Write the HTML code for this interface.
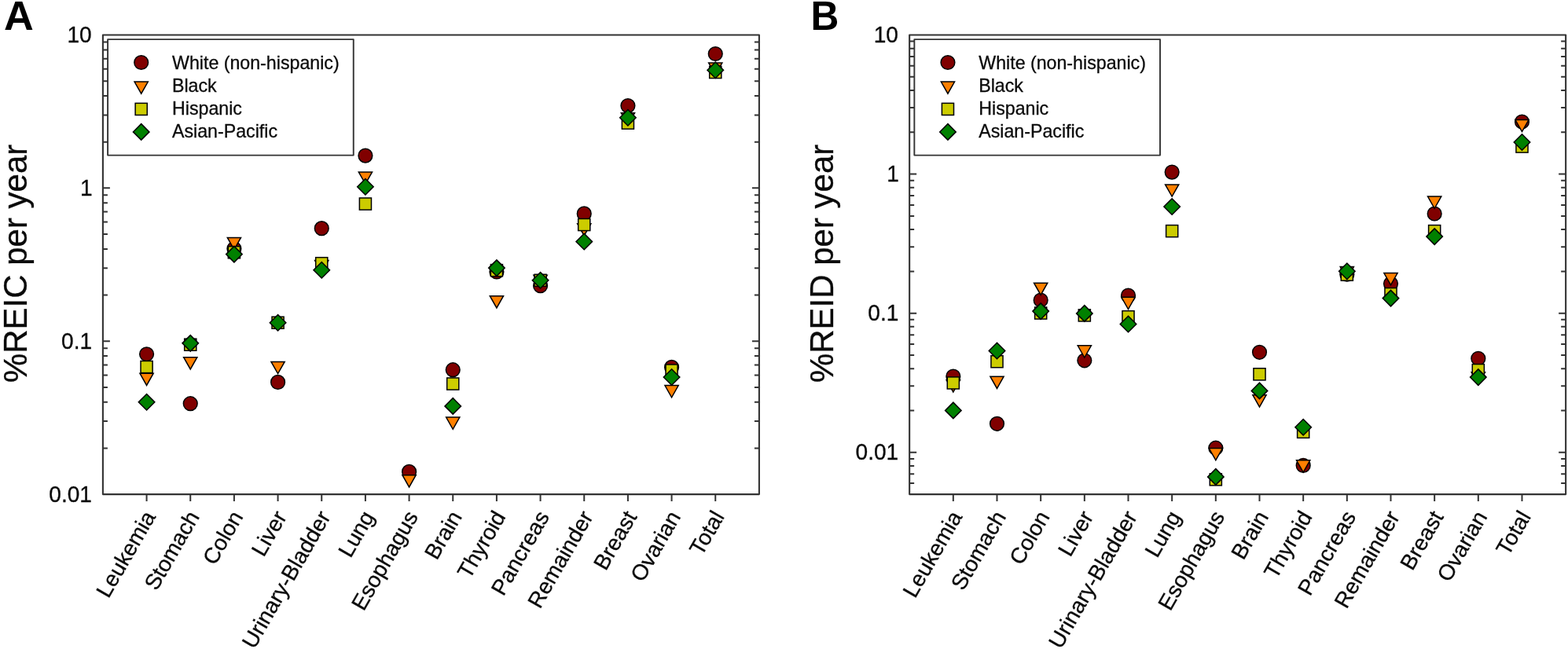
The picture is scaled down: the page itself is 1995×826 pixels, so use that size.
<!DOCTYPE html>
<html lang="en"><head><meta charset="utf-8"><title>%REIC and %REID per year by cancer site</title>
<style>html,body{margin:0;padding:0;background:#fff;}body{width:1995px;height:826px;overflow:hidden;}svg{display:block;}text{font-family:'Liberation Sans', Arial, Helvetica, sans-serif;fill:#0a0a0a;stroke:#0a0a0a;stroke-width:0.3px;}</style>
</head><body>
<svg width="1995" height="826" viewBox="0 0 1995 826">
<rect width="1995" height="826" fill="#fff"/>
<g>
<path d="M130.9 239.37h9M965.9 239.37h-9M130.9 180.71h6M965.9 180.71h-6M130.9 146.39h6M965.9 146.39h-6M130.9 122.05h6M965.9 122.05h-6M130.9 103.16h6M965.9 103.16h-6M130.9 87.73h6M965.9 87.73h-6M130.9 74.69h6M965.9 74.69h-6M130.9 63.38h6M965.9 63.38h-6M130.9 53.42h6M965.9 53.42h-6M130.9 434.23h9M965.9 434.23h-9M130.9 375.57h6M965.9 375.57h-6M130.9 341.26h6M965.9 341.26h-6M130.9 316.91h6M965.9 316.91h-6M130.9 298.03h6M965.9 298.03h-6M130.9 282.6h6M965.9 282.6h-6M130.9 269.55h6M965.9 269.55h-6M130.9 258.25h6M965.9 258.25h-6M130.9 248.28h6M965.9 248.28h-6M130.9 570.44h6M965.9 570.44h-6M130.9 536.12h6M965.9 536.12h-6M130.9 511.78h6M965.9 511.78h-6M130.9 492.89h6M965.9 492.89h-6M130.9 477.46h6M965.9 477.46h-6M130.9 464.42h6M965.9 464.42h-6M130.9 453.12h6M965.9 453.12h-6M130.9 443.15h6M965.9 443.15h-6M186.57 629.1v9M242.24 629.1v9M297.9 629.1v9M353.57 629.1v9M409.24 629.1v9M464.91 629.1v9M520.57 629.1v9M576.24 629.1v9M631.91 629.1v9M687.57 629.1v9M743.24 629.1v9M798.91 629.1v9M854.57 629.1v9M910.24 629.1v9" fill="none" stroke="#333" stroke-width="2"/>
<circle cx="186.57" cy="450.8" r="8.85" fill="#800000" stroke="#000" stroke-width="1.5" stroke-linejoin="miter"/>
<circle cx="242.24" cy="513.7" r="8.85" fill="#800000" stroke="#000" stroke-width="1.5" stroke-linejoin="miter"/>
<circle cx="297.9" cy="316.6" r="8.85" fill="#800000" stroke="#000" stroke-width="1.5" stroke-linejoin="miter"/>
<circle cx="353.57" cy="486.4" r="8.85" fill="#800000" stroke="#000" stroke-width="1.5" stroke-linejoin="miter"/>
<circle cx="409.24" cy="290.65" r="8.85" fill="#800000" stroke="#000" stroke-width="1.5" stroke-linejoin="miter"/>
<circle cx="464.91" cy="198.1" r="8.85" fill="#800000" stroke="#000" stroke-width="1.5" stroke-linejoin="miter"/>
<circle cx="520.57" cy="600.4" r="8.85" fill="#800000" stroke="#000" stroke-width="1.5" stroke-linejoin="miter"/>
<circle cx="576.24" cy="470.7" r="8.85" fill="#800000" stroke="#000" stroke-width="1.5" stroke-linejoin="miter"/>
<circle cx="631.91" cy="345.9" r="8.85" fill="#800000" stroke="#000" stroke-width="1.5" stroke-linejoin="miter"/>
<circle cx="687.57" cy="363.65" r="8.85" fill="#800000" stroke="#000" stroke-width="1.5" stroke-linejoin="miter"/>
<circle cx="743.24" cy="271.9" r="8.85" fill="#800000" stroke="#000" stroke-width="1.5" stroke-linejoin="miter"/>
<circle cx="798.91" cy="134.6" r="8.85" fill="#800000" stroke="#000" stroke-width="1.5" stroke-linejoin="miter"/>
<circle cx="854.57" cy="467.4" r="8.85" fill="#800000" stroke="#000" stroke-width="1.5" stroke-linejoin="miter"/>
<circle cx="910.24" cy="68.5" r="8.85" fill="#800000" stroke="#000" stroke-width="1.5" stroke-linejoin="miter"/>
<polygon points="177.97,475.2 195.17,475.2 186.57,490.4" fill="#ff8000" stroke="#000" stroke-width="1.5" stroke-linejoin="miter"/>
<polygon points="233.64,454.7 250.84,454.7 242.24,469.9" fill="#ff8000" stroke="#000" stroke-width="1.5" stroke-linejoin="miter"/>
<polygon points="289.3,302.4 306.5,302.4 297.9,317.6" fill="#ff8000" stroke="#000" stroke-width="1.5" stroke-linejoin="miter"/>
<polygon points="344.97,460.4 362.17,460.4 353.57,475.6" fill="#ff8000" stroke="#000" stroke-width="1.5" stroke-linejoin="miter"/>
<polygon points="400.64,331.6 417.84,331.6 409.24,346.8" fill="#ff8000" stroke="#000" stroke-width="1.5" stroke-linejoin="miter"/>
<polygon points="456.31,218.9 473.51,218.9 464.91,234.1" fill="#ff8000" stroke="#000" stroke-width="1.5" stroke-linejoin="miter"/>
<polygon points="511.97,604.7 529.17,604.7 520.57,619.9" fill="#ff8000" stroke="#000" stroke-width="1.5" stroke-linejoin="miter"/>
<polygon points="567.64,531.1 584.84,531.1 576.24,546.3" fill="#ff8000" stroke="#000" stroke-width="1.5" stroke-linejoin="miter"/>
<polygon points="623.31,376.7 640.51,376.7 631.91,391.9" fill="#ff8000" stroke="#000" stroke-width="1.5" stroke-linejoin="miter"/>
<polygon points="678.97,350.2 696.17,350.2 687.57,365.4" fill="#ff8000" stroke="#000" stroke-width="1.5" stroke-linejoin="miter"/>
<polygon points="734.64,284.7 751.84,284.7 743.24,299.9" fill="#ff8000" stroke="#000" stroke-width="1.5" stroke-linejoin="miter"/>
<polygon points="790.31,143.7 807.51,143.7 798.91,158.9" fill="#ff8000" stroke="#000" stroke-width="1.5" stroke-linejoin="miter"/>
<polygon points="845.97,490.6 863.17,490.6 854.57,505.8" fill="#ff8000" stroke="#000" stroke-width="1.5" stroke-linejoin="miter"/>
<polygon points="901.64,79.9 918.84,79.9 910.24,95.1" fill="#ff8000" stroke="#000" stroke-width="1.5" stroke-linejoin="miter"/>
<rect x="179.02" y="459.45" width="15.1" height="15.1" fill="#cccc00" stroke="#000" stroke-width="1.5" stroke-linejoin="miter"/>
<rect x="234.69" y="431.15" width="15.1" height="15.1" fill="#cccc00" stroke="#000" stroke-width="1.5" stroke-linejoin="miter"/>
<rect x="290.35" y="313.65" width="15.1" height="15.1" fill="#cccc00" stroke="#000" stroke-width="1.5" stroke-linejoin="miter"/>
<rect x="346.02" y="403.15" width="15.1" height="15.1" fill="#cccc00" stroke="#000" stroke-width="1.5" stroke-linejoin="miter"/>
<rect x="401.69" y="327.65" width="15.1" height="15.1" fill="#cccc00" stroke="#000" stroke-width="1.5" stroke-linejoin="miter"/>
<rect x="457.36" y="251.95" width="15.1" height="15.1" fill="#cccc00" stroke="#000" stroke-width="1.5" stroke-linejoin="miter"/>
<rect x="568.69" y="480.95" width="15.1" height="15.1" fill="#cccc00" stroke="#000" stroke-width="1.5" stroke-linejoin="miter"/>
<rect x="624.36" y="336.55" width="15.1" height="15.1" fill="#cccc00" stroke="#000" stroke-width="1.5" stroke-linejoin="miter"/>
<rect x="680.02" y="349.25" width="15.1" height="15.1" fill="#cccc00" stroke="#000" stroke-width="1.5" stroke-linejoin="miter"/>
<rect x="735.69" y="278.45" width="15.1" height="15.1" fill="#cccc00" stroke="#000" stroke-width="1.5" stroke-linejoin="miter"/>
<rect x="791.36" y="149.05" width="15.1" height="15.1" fill="#cccc00" stroke="#000" stroke-width="1.5" stroke-linejoin="miter"/>
<rect x="847.02" y="463.95" width="15.1" height="15.1" fill="#cccc00" stroke="#000" stroke-width="1.5" stroke-linejoin="miter"/>
<rect x="902.69" y="84.45" width="15.1" height="15.1" fill="#cccc00" stroke="#000" stroke-width="1.5" stroke-linejoin="miter"/>
<polygon points="186.57,501.45 196.82,511.7 186.57,521.95 176.32,511.7" fill="#008000" stroke="#000" stroke-width="1.5" stroke-linejoin="miter"/>
<polygon points="242.24,426.6 252.49,436.85 242.24,447.1 231.99,436.85" fill="#008000" stroke="#000" stroke-width="1.5" stroke-linejoin="miter"/>
<polygon points="297.9,313.35 308.15,323.6 297.9,333.85 287.65,323.6" fill="#008000" stroke="#000" stroke-width="1.5" stroke-linejoin="miter"/>
<polygon points="353.57,400.45 363.82,410.7 353.57,420.95 343.32,410.7" fill="#008000" stroke="#000" stroke-width="1.5" stroke-linejoin="miter"/>
<polygon points="409.24,333.55 419.49,343.8 409.24,354.05 398.99,343.8" fill="#008000" stroke="#000" stroke-width="1.5" stroke-linejoin="miter"/>
<polygon points="464.91,227.5 475.16,237.75 464.91,248 454.66,237.75" fill="#008000" stroke="#000" stroke-width="1.5" stroke-linejoin="miter"/>
<polygon points="576.24,506.65 586.49,516.9 576.24,527.15 565.99,516.9" fill="#008000" stroke="#000" stroke-width="1.5" stroke-linejoin="miter"/>
<polygon points="631.91,330.85 642.16,341.1 631.91,351.35 621.66,341.1" fill="#008000" stroke="#000" stroke-width="1.5" stroke-linejoin="miter"/>
<polygon points="687.57,346.55 697.82,356.8 687.57,367.05 677.32,356.8" fill="#008000" stroke="#000" stroke-width="1.5" stroke-linejoin="miter"/>
<polygon points="743.24,297.25 753.49,307.5 743.24,317.75 732.99,307.5" fill="#008000" stroke="#000" stroke-width="1.5" stroke-linejoin="miter"/>
<polygon points="798.91,139.55 809.16,149.8 798.91,160.05 788.66,149.8" fill="#008000" stroke="#000" stroke-width="1.5" stroke-linejoin="miter"/>
<polygon points="854.57,469.75 864.82,480 854.57,490.25 844.32,480" fill="#008000" stroke="#000" stroke-width="1.5" stroke-linejoin="miter"/>
<polygon points="910.24,79.05 920.49,89.3 910.24,99.55 899.99,89.3" fill="#008000" stroke="#000" stroke-width="1.5" stroke-linejoin="miter"/>
<rect x="130.9" y="44.5" width="835" height="584.6" fill="none" stroke="#333" stroke-width="2.1" stroke-linejoin="round"/>
<rect x="137.1" y="50.1" width="312.65" height="147.5" fill="#fff" stroke="#333" stroke-width="1.9" stroke-linejoin="round"/>
<circle cx="179.7" cy="79.5" r="8.85" fill="#800000" stroke="#000" stroke-width="1.5" stroke-linejoin="miter"/>
<text x="219" y="88" font-size="23.2">White (non-hispanic)</text>
<polygon points="171.1,104 188.3,104 179.7,119.2" fill="#ff8000" stroke="#000" stroke-width="1.5" stroke-linejoin="miter"/>
<text x="219" y="116.9" font-size="23.2">Black</text>
<rect x="172.15" y="131.35" width="15.1" height="15.1" fill="#cccc00" stroke="#000" stroke-width="1.5" stroke-linejoin="miter"/>
<text x="219" y="146.2" font-size="23.2">Hispanic</text>
<polygon points="179.7,157.65 189.95,167.9 179.7,178.15 169.45,167.9" fill="#008000" stroke="#000" stroke-width="1.5" stroke-linejoin="miter"/>
<text x="219" y="175.4" font-size="23.2">Asian-Pacific</text>
<text transform="translate(116.7 53.6) scale(1 1.04)" font-size="28.1" text-anchor="end">10</text>
<text transform="translate(117.5 248.74) scale(1 1.04)" font-size="28.1" text-anchor="end">1</text>
<text transform="translate(117.1 443.88) scale(1 1.04)" font-size="28.1" text-anchor="end">0.1</text>
<text transform="translate(117 639.02) scale(1 1.04)" font-size="28.1" text-anchor="end">0.01</text>
<text transform="translate(198.77 657.4) rotate(-60)" font-size="28" text-anchor="end">Leukemia</text>
<text transform="translate(254.44 657.4) rotate(-60)" font-size="28" text-anchor="end">Stomach</text>
<text transform="translate(310.1 657.4) rotate(-60)" font-size="28" text-anchor="end">Colon</text>
<text transform="translate(365.77 657.4) rotate(-60)" font-size="28" text-anchor="end">Liver</text>
<text transform="translate(421.44 657.4) rotate(-60)" font-size="28" text-anchor="end">Urinary-Bladder</text>
<text transform="translate(477.11 657.4) rotate(-60)" font-size="28" text-anchor="end">Lung</text>
<text transform="translate(532.77 657.4) rotate(-60)" font-size="28" text-anchor="end">Esophagus</text>
<text transform="translate(588.44 657.4) rotate(-60)" font-size="28" text-anchor="end">Brain</text>
<text transform="translate(644.11 657.4) rotate(-60)" font-size="28" text-anchor="end">Thyroid</text>
<text transform="translate(699.77 657.4) rotate(-60)" font-size="28" text-anchor="end">Pancreas</text>
<text transform="translate(755.44 657.4) rotate(-60)" font-size="28" text-anchor="end">Remainder</text>
<text transform="translate(811.11 657.4) rotate(-60)" font-size="28" text-anchor="end">Breast</text>
<text transform="translate(866.77 657.4) rotate(-60)" font-size="28" text-anchor="end">Ovarian</text>
<text transform="translate(922.44 657.4) rotate(-60)" font-size="28" text-anchor="end">Total</text>
<text transform="translate(34 335.4) rotate(-90)" font-size="42" text-anchor="middle">%REIC per year</text>
<text transform="translate(4.95 37.55) scale(1 1)" font-size="52.3" font-weight="bold" style="fill:#000;stroke:none">A</text>
</g>
<g>
<path d="M1157.15 221.6h9M1992.15 221.6h-9M1157.15 168.28h6M1992.15 168.28h-6M1157.15 137.1h6M1992.15 137.1h-6M1157.15 114.97h6M1992.15 114.97h-6M1157.15 97.81h6M1992.15 97.81h-6M1157.15 83.79h6M1992.15 83.79h-6M1157.15 71.93h6M1992.15 71.93h-6M1157.15 61.66h6M1992.15 61.66h-6M1157.15 52.6h6M1992.15 52.6h-6M1157.15 398.69h9M1992.15 398.69h-9M1157.15 345.38h6M1992.15 345.38h-6M1157.15 314.2h6M1992.15 314.2h-6M1157.15 292.07h6M1992.15 292.07h-6M1157.15 274.91h6M1992.15 274.91h-6M1157.15 260.88h6M1992.15 260.88h-6M1157.15 249.03h6M1992.15 249.03h-6M1157.15 238.76h6M1992.15 238.76h-6M1157.15 229.7h6M1992.15 229.7h-6M1157.15 575.79h9M1992.15 575.79h-9M1157.15 522.48h6M1992.15 522.48h-6M1157.15 491.29h6M1992.15 491.29h-6M1157.15 469.17h6M1992.15 469.17h-6M1157.15 452h6M1992.15 452h-6M1157.15 437.98h6M1992.15 437.98h-6M1157.15 426.13h6M1992.15 426.13h-6M1157.15 415.85h6M1992.15 415.85h-6M1157.15 406.8h6M1992.15 406.8h-6M1157.15 615.08h6M1992.15 615.08h-6M1157.15 603.22h6M1992.15 603.22h-6M1157.15 592.95h6M1992.15 592.95h-6M1157.15 583.89h6M1992.15 583.89h-6M1212.82 629.1v9M1268.49 629.1v9M1324.15 629.1v9M1379.82 629.1v9M1435.49 629.1v9M1491.15 629.1v9M1546.82 629.1v9M1602.49 629.1v9M1658.16 629.1v9M1713.82 629.1v9M1769.49 629.1v9M1825.16 629.1v9M1880.82 629.1v9M1936.49 629.1v9" fill="none" stroke="#333" stroke-width="2"/>
<circle cx="1212.82" cy="479.1" r="8.85" fill="#800000" stroke="#000" stroke-width="1.5" stroke-linejoin="miter"/>
<circle cx="1268.49" cy="539.3" r="8.85" fill="#800000" stroke="#000" stroke-width="1.5" stroke-linejoin="miter"/>
<circle cx="1324.15" cy="382" r="8.85" fill="#800000" stroke="#000" stroke-width="1.5" stroke-linejoin="miter"/>
<circle cx="1379.82" cy="458.8" r="8.85" fill="#800000" stroke="#000" stroke-width="1.5" stroke-linejoin="miter"/>
<circle cx="1435.49" cy="376.1" r="8.85" fill="#800000" stroke="#000" stroke-width="1.5" stroke-linejoin="miter"/>
<circle cx="1491.15" cy="219.1" r="8.85" fill="#800000" stroke="#000" stroke-width="1.5" stroke-linejoin="miter"/>
<circle cx="1546.82" cy="570.2" r="8.85" fill="#800000" stroke="#000" stroke-width="1.5" stroke-linejoin="miter"/>
<circle cx="1602.49" cy="448.3" r="8.85" fill="#800000" stroke="#000" stroke-width="1.5" stroke-linejoin="miter"/>
<circle cx="1658.16" cy="592.4" r="8.85" fill="#800000" stroke="#000" stroke-width="1.5" stroke-linejoin="miter"/>
<circle cx="1713.82" cy="349.2" r="8.85" fill="#800000" stroke="#000" stroke-width="1.5" stroke-linejoin="miter"/>
<circle cx="1769.49" cy="361.1" r="8.85" fill="#800000" stroke="#000" stroke-width="1.5" stroke-linejoin="miter"/>
<circle cx="1825.16" cy="272" r="8.85" fill="#800000" stroke="#000" stroke-width="1.5" stroke-linejoin="miter"/>
<circle cx="1880.82" cy="456.3" r="8.85" fill="#800000" stroke="#000" stroke-width="1.5" stroke-linejoin="miter"/>
<circle cx="1936.49" cy="155" r="8.85" fill="#800000" stroke="#000" stroke-width="1.5" stroke-linejoin="miter"/>
<polygon points="1204.22,483.7 1221.42,483.7 1212.82,498.9" fill="#ff8000" stroke="#000" stroke-width="1.5" stroke-linejoin="miter"/>
<polygon points="1259.89,479.2 1277.09,479.2 1268.49,494.4" fill="#ff8000" stroke="#000" stroke-width="1.5" stroke-linejoin="miter"/>
<polygon points="1315.55,360.2 1332.75,360.2 1324.15,375.4" fill="#ff8000" stroke="#000" stroke-width="1.5" stroke-linejoin="miter"/>
<polygon points="1371.22,439.8 1388.42,439.8 1379.82,455" fill="#ff8000" stroke="#000" stroke-width="1.5" stroke-linejoin="miter"/>
<polygon points="1426.89,378.3 1444.09,378.3 1435.49,393.5" fill="#ff8000" stroke="#000" stroke-width="1.5" stroke-linejoin="miter"/>
<polygon points="1482.56,234.9 1499.75,234.9 1491.15,250.1" fill="#ff8000" stroke="#000" stroke-width="1.5" stroke-linejoin="miter"/>
<polygon points="1538.22,570.5 1555.42,570.5 1546.82,585.7" fill="#ff8000" stroke="#000" stroke-width="1.5" stroke-linejoin="miter"/>
<polygon points="1593.89,502.7 1611.09,502.7 1602.49,517.9" fill="#ff8000" stroke="#000" stroke-width="1.5" stroke-linejoin="miter"/>
<polygon points="1649.56,585.8 1666.76,585.8 1658.16,601" fill="#ff8000" stroke="#000" stroke-width="1.5" stroke-linejoin="miter"/>
<polygon points="1705.22,339.6 1722.42,339.6 1713.82,354.8" fill="#ff8000" stroke="#000" stroke-width="1.5" stroke-linejoin="miter"/>
<polygon points="1760.89,347.5 1778.09,347.5 1769.49,362.7" fill="#ff8000" stroke="#000" stroke-width="1.5" stroke-linejoin="miter"/>
<polygon points="1816.56,250.1 1833.76,250.1 1825.16,265.3" fill="#ff8000" stroke="#000" stroke-width="1.5" stroke-linejoin="miter"/>
<polygon points="1872.22,473.8 1889.42,473.8 1880.82,489" fill="#ff8000" stroke="#000" stroke-width="1.5" stroke-linejoin="miter"/>
<polygon points="1927.89,152.4 1945.09,152.4 1936.49,167.6" fill="#ff8000" stroke="#000" stroke-width="1.5" stroke-linejoin="miter"/>
<rect x="1205.27" y="479.85" width="15.1" height="15.1" fill="#cccc00" stroke="#000" stroke-width="1.5" stroke-linejoin="miter"/>
<rect x="1260.94" y="452.65" width="15.1" height="15.1" fill="#cccc00" stroke="#000" stroke-width="1.5" stroke-linejoin="miter"/>
<rect x="1316.6" y="390.95" width="15.1" height="15.1" fill="#cccc00" stroke="#000" stroke-width="1.5" stroke-linejoin="miter"/>
<rect x="1372.27" y="393.85" width="15.1" height="15.1" fill="#cccc00" stroke="#000" stroke-width="1.5" stroke-linejoin="miter"/>
<rect x="1427.94" y="395.65" width="15.1" height="15.1" fill="#cccc00" stroke="#000" stroke-width="1.5" stroke-linejoin="miter"/>
<rect x="1483.61" y="286.55" width="15.1" height="15.1" fill="#cccc00" stroke="#000" stroke-width="1.5" stroke-linejoin="miter"/>
<rect x="1539.27" y="602.75" width="15.1" height="15.1" fill="#cccc00" stroke="#000" stroke-width="1.5" stroke-linejoin="miter"/>
<rect x="1594.94" y="468.75" width="15.1" height="15.1" fill="#cccc00" stroke="#000" stroke-width="1.5" stroke-linejoin="miter"/>
<rect x="1650.61" y="542.25" width="15.1" height="15.1" fill="#cccc00" stroke="#000" stroke-width="1.5" stroke-linejoin="miter"/>
<rect x="1706.27" y="342.05" width="15.1" height="15.1" fill="#cccc00" stroke="#000" stroke-width="1.5" stroke-linejoin="miter"/>
<rect x="1761.94" y="366.55" width="15.1" height="15.1" fill="#cccc00" stroke="#000" stroke-width="1.5" stroke-linejoin="miter"/>
<rect x="1817.61" y="286.55" width="15.1" height="15.1" fill="#cccc00" stroke="#000" stroke-width="1.5" stroke-linejoin="miter"/>
<rect x="1873.27" y="463.55" width="15.1" height="15.1" fill="#cccc00" stroke="#000" stroke-width="1.5" stroke-linejoin="miter"/>
<rect x="1928.94" y="179" width="15.1" height="15.1" fill="#cccc00" stroke="#000" stroke-width="1.5" stroke-linejoin="miter"/>
<polygon points="1212.82,512.15 1223.07,522.4 1212.82,532.65 1202.57,522.4" fill="#008000" stroke="#000" stroke-width="1.5" stroke-linejoin="miter"/>
<polygon points="1268.49,436.25 1278.74,446.5 1268.49,456.75 1258.24,446.5" fill="#008000" stroke="#000" stroke-width="1.5" stroke-linejoin="miter"/>
<polygon points="1324.15,385.85 1334.4,396.1 1324.15,406.35 1313.9,396.1" fill="#008000" stroke="#000" stroke-width="1.5" stroke-linejoin="miter"/>
<polygon points="1379.82,388.65 1390.07,398.9 1379.82,409.15 1369.57,398.9" fill="#008000" stroke="#000" stroke-width="1.5" stroke-linejoin="miter"/>
<polygon points="1435.49,402.2 1445.74,412.45 1435.49,422.7 1425.24,412.45" fill="#008000" stroke="#000" stroke-width="1.5" stroke-linejoin="miter"/>
<polygon points="1491.15,252.75 1501.4,263 1491.15,273.25 1480.9,263" fill="#008000" stroke="#000" stroke-width="1.5" stroke-linejoin="miter"/>
<polygon points="1546.82,596.65 1557.07,606.9 1546.82,617.15 1536.57,606.9" fill="#008000" stroke="#000" stroke-width="1.5" stroke-linejoin="miter"/>
<polygon points="1602.49,487.15 1612.74,497.4 1602.49,507.65 1592.24,497.4" fill="#008000" stroke="#000" stroke-width="1.5" stroke-linejoin="miter"/>
<polygon points="1658.16,533.45 1668.41,543.7 1658.16,553.95 1647.91,543.7" fill="#008000" stroke="#000" stroke-width="1.5" stroke-linejoin="miter"/>
<polygon points="1713.82,334.95 1724.07,345.2 1713.82,355.45 1703.57,345.2" fill="#008000" stroke="#000" stroke-width="1.5" stroke-linejoin="miter"/>
<polygon points="1769.49,369.35 1779.74,379.6 1769.49,389.85 1759.24,379.6" fill="#008000" stroke="#000" stroke-width="1.5" stroke-linejoin="miter"/>
<polygon points="1825.16,290.85 1835.41,301.1 1825.16,311.35 1814.91,301.1" fill="#008000" stroke="#000" stroke-width="1.5" stroke-linejoin="miter"/>
<polygon points="1880.82,469.85 1891.07,480.1 1880.82,490.35 1870.57,480.1" fill="#008000" stroke="#000" stroke-width="1.5" stroke-linejoin="miter"/>
<polygon points="1936.49,170.75 1946.74,181 1936.49,191.25 1926.24,181" fill="#008000" stroke="#000" stroke-width="1.5" stroke-linejoin="miter"/>
<rect x="1157.15" y="44.5" width="835" height="584.6" fill="none" stroke="#333" stroke-width="2.1" stroke-linejoin="round"/>
<rect x="1163.35" y="50.1" width="312.65" height="147.5" fill="#fff" stroke="#333" stroke-width="1.9" stroke-linejoin="round"/>
<circle cx="1205.95" cy="79.5" r="8.85" fill="#800000" stroke="#000" stroke-width="1.5" stroke-linejoin="miter"/>
<text x="1245.25" y="88" font-size="23.2">White (non-hispanic)</text>
<polygon points="1197.35,104 1214.55,104 1205.95,119.2" fill="#ff8000" stroke="#000" stroke-width="1.5" stroke-linejoin="miter"/>
<text x="1245.25" y="116.9" font-size="23.2">Black</text>
<rect x="1198.4" y="131.35" width="15.1" height="15.1" fill="#cccc00" stroke="#000" stroke-width="1.5" stroke-linejoin="miter"/>
<text x="1245.25" y="146.2" font-size="23.2">Hispanic</text>
<polygon points="1205.95,157.65 1216.2,167.9 1205.95,178.15 1195.7,167.9" fill="#008000" stroke="#000" stroke-width="1.5" stroke-linejoin="miter"/>
<text x="1245.25" y="175.4" font-size="23.2">Asian-Pacific</text>
<text transform="translate(1142.95 53.6) scale(1 1.04)" font-size="28.1" text-anchor="end">10</text>
<text transform="translate(1143.75 230.78) scale(1 1.04)" font-size="28.1" text-anchor="end">1</text>
<text transform="translate(1143.35 407.97) scale(1 1.04)" font-size="28.1" text-anchor="end">0.1</text>
<text transform="translate(1143.25 585.15) scale(1 1.04)" font-size="28.1" text-anchor="end">0.01</text>
<text transform="translate(1225.02 657.4) rotate(-60)" font-size="28" text-anchor="end">Leukemia</text>
<text transform="translate(1280.69 657.4) rotate(-60)" font-size="28" text-anchor="end">Stomach</text>
<text transform="translate(1336.35 657.4) rotate(-60)" font-size="28" text-anchor="end">Colon</text>
<text transform="translate(1392.02 657.4) rotate(-60)" font-size="28" text-anchor="end">Liver</text>
<text transform="translate(1447.69 657.4) rotate(-60)" font-size="28" text-anchor="end">Urinary-Bladder</text>
<text transform="translate(1503.36 657.4) rotate(-60)" font-size="28" text-anchor="end">Lung</text>
<text transform="translate(1559.02 657.4) rotate(-60)" font-size="28" text-anchor="end">Esophagus</text>
<text transform="translate(1614.69 657.4) rotate(-60)" font-size="28" text-anchor="end">Brain</text>
<text transform="translate(1670.36 657.4) rotate(-60)" font-size="28" text-anchor="end">Thyroid</text>
<text transform="translate(1726.02 657.4) rotate(-60)" font-size="28" text-anchor="end">Pancreas</text>
<text transform="translate(1781.69 657.4) rotate(-60)" font-size="28" text-anchor="end">Remainder</text>
<text transform="translate(1837.36 657.4) rotate(-60)" font-size="28" text-anchor="end">Breast</text>
<text transform="translate(1893.02 657.4) rotate(-60)" font-size="28" text-anchor="end">Ovarian</text>
<text transform="translate(1948.69 657.4) rotate(-60)" font-size="28" text-anchor="end">Total</text>
<text transform="translate(1060.25 335.4) rotate(-90)" font-size="42" text-anchor="middle">%REID per year</text>
<text transform="translate(1031.4 37.55) scale(0.95 1)" font-size="52.3" font-weight="bold" style="fill:#000;stroke:none">B</text>
</g>
</svg></body></html>
